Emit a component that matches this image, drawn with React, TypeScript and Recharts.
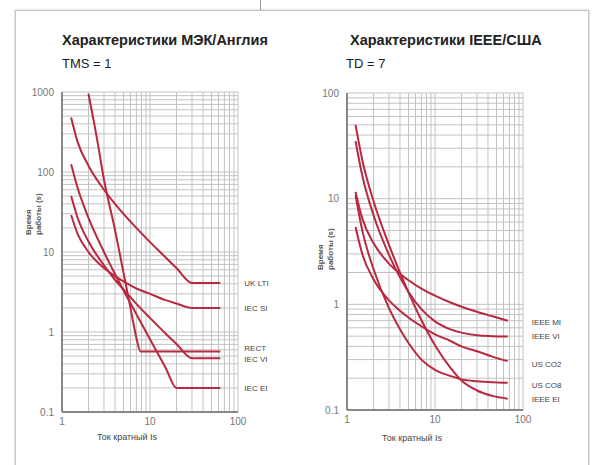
import { LineChart, Line, XAxis, YAxis, CartesianGrid } from 'recharts'

// IEC / UK curves, TMS = 1 (current multiple Is -> operating time, s)
const iecCurrent = [1.27, 1.5, 2, 3, 4, 5, 7, 10, 15, 20, 30, 63]
const ukLti = [480, 240, 120, 60, 40, 30, 20, 13.3, 8.6, 6.3, 4.1, 4.1]
const iecSi = [29, 17, 10, 6.3, 5.0, 4.3, 3.5, 3.0, 2.5, 2.27, 2.0, 2.0]
const iecVi = [50, 27, 13.5, 6.8, 4.5, 3.4, 2.25, 1.5, 0.96, 0.71, 0.47, 0.47]
const iecEi = [125, 64, 26.7, 10, 5.3, 3.3, 1.67, 0.81, 0.36, 0.2, 0.2, 0.2]
const rectCurrent = [2, 2.5, 3, 4, 5, 6, 7, 7.8, 63]
const rect = [950, 260, 80, 19, 5.5, 2.0, 0.85, 0.57, 0.57]

// IEEE / US curves, TD = 7
const ieeeCurrent = [1.25, 1.5, 2, 3, 4, 5, 7, 10, 15, 20, 30, 45, 67]
const ieeeMi = [11.6, 6.4, 3.8, 2.43, 1.95, 1.69, 1.41, 1.21, 1.04, 0.95, 0.85, 0.77, 0.7]
const ieeeVi = [35, 16.2, 7.0, 2.94, 1.8, 1.31, 0.9, 0.69, 0.58, 0.54, 0.51, 0.5, 0.495]
const usCo2 = [5.4, 2.95, 1.73, 1.09, 0.87, 0.75, 0.62, 0.52, 0.45, 0.4, 0.36, 0.32, 0.29]
const usCo8 = [10.8, 4.9, 2.16, 0.92, 0.58, 0.43, 0.3, 0.24, 0.21, 0.195, 0.187, 0.183, 0.181]
const ieeeEi = [50, 22.7, 9.5, 3.65, 2.0, 1.3, 0.71, 0.41, 0.25, 0.19, 0.153, 0.136, 0.128]

// grid ticks and the ones that get a label
const currentTicks = [1, 2, 3, 4, 5, 6, 7, 8, 9, 10, 20, 30, 40, 50, 60, 70, 80, 90, 100]
const currentLabels = [1, 10, 100]
const iecTimeTicks = [
  0.1, 0.2, 0.3, 0.4, 0.5, 0.6, 0.7, 0.8, 0.9, 1, 2, 3, 4, 5, 6, 7, 8, 9,
  10, 20, 30, 40, 50, 60, 70, 80, 90, 100, 200, 300, 400, 500, 600, 700, 800, 900, 1000,
]
const iecTimeLabels = [0.1, 1, 10, 100, 1000]
const ieeeTimeTicks = [
  0.1, 0.2, 0.3, 0.4, 0.5, 0.6, 0.7, 0.8, 0.9, 1, 2, 3, 4, 5, 6, 7, 8, 9,
  10, 20, 30, 40, 50, 60, 70, 80, 90, 100,
]
const ieeeTimeLabels = [0.1, 1, 10, 100]

const curveColor = '#b8283f'
const font = '"Liberation Sans", Arial, sans-serif'

type Series = { name: string; x: number[]; y: number[]; dy: number }

const iecSeries: Series[] = [
  { name: 'UK LTI', x: iecCurrent, y: ukLti, dy: 0 },
  { name: 'IEC SI', x: iecCurrent, y: iecSi, dy: 0 },
  { name: 'RECT', x: rectCurrent, y: rect, dy: -4 },
  { name: 'IEC VI', x: iecCurrent, y: iecVi, dy: 1 },
  { name: 'IEC EI', x: iecCurrent, y: iecEi, dy: 0 },
]

const ieeeSeries: Series[] = [
  { name: 'IEEE MI', x: ieeeCurrent, y: ieeeMi, dy: 1 },
  { name: 'IEEE VI', x: ieeeCurrent, y: ieeeVi, dy: -1 },
  { name: 'US CO2', x: ieeeCurrent, y: usCo2, dy: 3 },
  { name: 'US CO8', x: ieeeCurrent, y: usCo8, dy: 2 },
  { name: 'IEEE EI', x: ieeeCurrent, y: ieeeEi, dy: 0 },
]

const zip = (xs: number[], ys: number[]) => xs.map((i, k) => ({ i, t: ys[k] }))

const endLabel = (name: string, last: number, dy: number) => (p: any) =>
  p.index === last ? (
    <text x={p.x + 24} y={p.y + dy + 3} fontSize={8} fill="#444" fontFamily={font}>
      {name}
    </text>
  ) : null

interface ChartProps {
  left: number
  width: number
  margin: { top: number; right: number; bottom: number; left: number }
  yAxisWidth: number
  yDomain: [number, number]
  yTicks: number[]
  yLabels: number[]
  series: Series[]
}

function LogChart({ left, width, margin, yAxisWidth, yDomain, yTicks, yLabels, series }: ChartProps) {
  const tickStyle = { fontSize: 10, fill: '#777', fontFamily: font }
  return (
    <div style={{ position: 'absolute', left, top: 0 }}>
      <LineChart width={width} height={465} margin={margin}>
        <CartesianGrid stroke="#c2c2c2" />
        <XAxis
          type="number"
          dataKey="i"
          scale="log"
          domain={[1, 100]}
          ticks={currentTicks}
          interval={0}
          allowDataOverflow
          height={30}
          tickLine={false}
          tickSize={4}
          axisLine={{ stroke: '#888', strokeWidth: 2 }}
          tick={tickStyle}
          tickFormatter={(v: number) => (currentLabels.includes(v) ? String(v) : '')}
        />
        <YAxis
          type="number"
          dataKey="t"
          scale="log"
          domain={yDomain}
          ticks={yTicks}
          interval={0}
          allowDataOverflow
          width={yAxisWidth}
          tickLine={false}
          axisLine={{ stroke: '#888', strokeWidth: 2 }}
          tick={tickStyle}
          tickFormatter={(v: number) => (yLabels.includes(v) ? String(v) : '')}
        />
        {series.map((s) => (
          <Line
            key={s.name}
            data={zip(s.x, s.y)}
            dataKey="t"
            type="monotone"
            stroke={curveColor}
            strokeWidth={2}
            dot={false}
            activeDot={false}
            isAnimationActive={false}
            label={endLabel(s.name, s.x.length - 1, s.dy)}
          />
        ))}
      </LineChart>
    </div>
  )
}

export default function App() {
  return (
    <div
      style={{
        position: 'absolute',
        left: 0,
        top: 0,
        width: 592,
        height: 465,
        background: '#fff',
        overflow: 'hidden',
        fontFamily: font,
      }}
    >
      <div
        style={{
          position: 'absolute',
          left: 15,
          top: 10,
          width: 572,
          height: 480,
          border: '1px solid #c4c4c4',
          boxShadow: '0 0 2px #bbb',
        }}
      />
      <div style={{ position: 'absolute', left: 260, top: 0, width: 1, height: 10, background: '#999' }} />

      <LogChart
        left={0}
        width={300}
        margin={{ top: 92, right: 62, bottom: 23, left: 0 }}
        yAxisWidth={62}
        yDomain={[0.1, 1000]}
        yTicks={iecTimeTicks}
        yLabels={iecTimeLabels}
        series={iecSeries}
      />
      <LogChart
        left={290}
        width={302}
        margin={{ top: 93, right: 69, bottom: 25, left: 0 }}
        yAxisWidth={57}
        yDomain={[0.1, 100]}
        yTicks={ieeeTimeTicks}
        yLabels={ieeeTimeLabels}
        series={ieeeSeries}
      />

      <svg width={592} height={465} style={{ position: 'absolute', left: 0, top: 0, pointerEvents: 'none' }}>
        <g fontFamily={font}>
          <text x={62} y={45} fontSize={14.5} fontWeight="bold" fill="#222">
            Характеристики МЭК/Англия
          </text>
          <text x={62} y={68} fontSize={13} fill="#222">
            TMS = 1
          </text>
          <text x={350} y={45} fontSize={14.5} fontWeight="bold" fill="#222">
            Характеристики IEEE/США
          </text>
          <text x={346} y={68} fontSize={13} fill="#222">
            TD = 7
          </text>

          <text transform="translate(31,235) rotate(-90)" fontSize={8} fontWeight="bold" fill="#555">
            <tspan x={0} dy={0}>Время</tspan>
            <tspan x={0} dy={10}>работы (s)</tspan>
          </text>
          <text transform="translate(323,270) rotate(-90)" fontSize={8} fontWeight="bold" fill="#555">
            <tspan x={0} dy={0}>Время</tspan>
            <tspan x={0} dy={10}>работы (s)</tspan>
          </text>

          <text x={97} y={440} fontSize={9} fill="#444">
            Ток кратный Is
          </text>
          <text x={382} y={441} fontSize={9} fill="#444">
            Ток кратный Is
          </text>
        </g>
      </svg>
    </div>
  )
}
